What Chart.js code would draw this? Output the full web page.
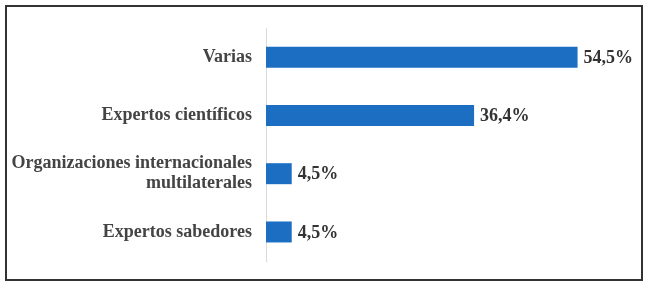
<!DOCTYPE html>
<html>
<head>
<meta charset="utf-8">
<script src="https://cdn.jsdelivr.net/npm/chart.js@4/dist/chart.umd.min.js"></script>
<style>
  html, body { margin: 0; padding: 0; background: #fff; }
  .wrap { position: relative; width: 650px; height: 285px; }
  .frame { position: absolute; left: 5px; top: 5px; width: 634px; height: 272px;
    border: 2px solid #333; box-sizing: content-box; pointer-events: none; }
  canvas { position: absolute; left: 0; top: 0; }
</style>
</head>
<body>
<div class="wrap">
  <canvas id="c" width="650" height="285"></canvas>
  <div class="frame"></div>
</div>
<script>
// Horizontal bar chart: share of sources by type
const categories = [
  'Varias',
  'Expertos científicos',
  ['Organizaciones internacionales', 'multilaterales'],
  'Expertos sabedores'
];
const values = [54.5, 36.4, 4.5, 4.5];

const SERIF = '"Liberation Serif", "Times New Roman", serif';

// plugin: value labels to the right of each bar
const valueLabels = {
  id: 'valueLabels',
  afterDatasetsDraw: function (chart) {
    const ctx = chart.ctx;
    const meta = chart.getDatasetMeta(0);
    ctx.save();
    ctx.font = 'bold 18px ' + SERIF;
    ctx.fillStyle = '#333';
    ctx.textAlign = 'left';
    ctx.textBaseline = 'middle';
    meta.data.forEach(function (bar, i) {
      const txt = values[i].toFixed(1).replace('.', ',') + '%';
      ctx.fillText(txt, bar.x + 6, bar.y + 1);
    });
    ctx.restore();
  }
};

new Chart(document.getElementById('c'), {
  type: 'bar',
  data: {
    labels: categories,
    datasets: [{
      data: values,
      backgroundColor: '#1b6ec2',
      borderWidth: 0,
      categoryPercentage: 0.8,
      barPercentage: 0.45
    }]
  },
  options: {
    indexAxis: 'y',
    responsive: false,
    animation: false,
    layout: { padding: { top: 28, bottom: 20, left: 0, right: 41 } },
    scales: {
      x: { display: false, min: 0, max: 60 },
      y: {
        afterFit: function (scale) { scale.width = 266; },
        grid: { display: false, drawTicks: false },
        border: { display: true, color: '#d9d9d9', width: 1 },
        ticks: {
          padding: 14,
          color: '#444',
          font: { family: SERIF, size: 18, weight: 'bold', lineHeight: 1.1 }
        }
      }
    },
    plugins: {
      legend: { display: false },
      tooltip: { enabled: false }
    }
  },
  plugins: [valueLabels]
});
</script>
</body>
</html>
